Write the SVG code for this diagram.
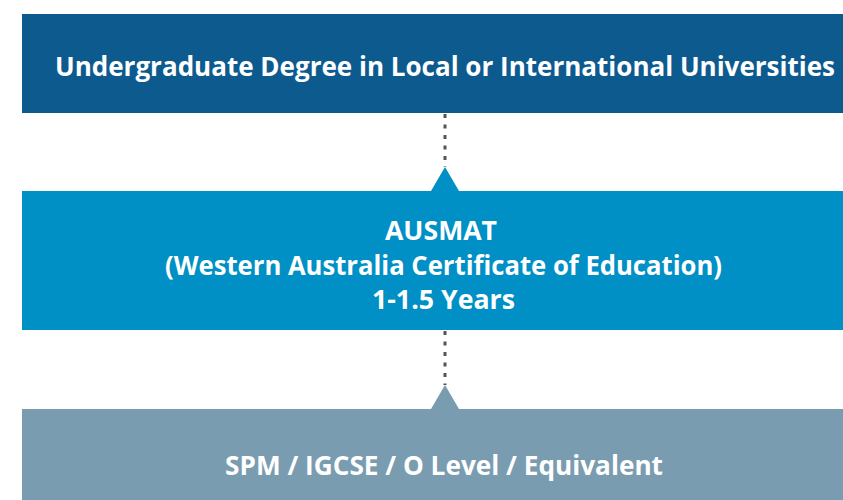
<svg xmlns="http://www.w3.org/2000/svg" width="843" height="500" viewBox="0 0 843 500">
<style>
.t{font-family:"Open Sans","Liberation Sans",sans-serif;font-weight:bold;font-size:26px;fill:#ffffff;text-anchor:middle}
.dot{stroke:#555555;stroke-width:3;stroke-dasharray:4 6.5;fill:none}
</style>
<rect width="843" height="500" fill="#ffffff"/>
<g id="connectors">
<line class="dot" x1="445" y1="114" x2="445" y2="167"/>
<polygon points="445,167 431,191 459,191" fill="#0090c5"/>
<line class="dot" x1="445" y1="331" x2="445" y2="385"/>
<polygon points="445,385 431,409 459,409" fill="#7a9cb1"/>
</g>
<g id="degree">
<rect x="22" y="14" width="821" height="99" fill="#0d5a8f"/>
<text class="t" x="445" y="76" textLength="780" lengthAdjust="spacingAndGlyphs">Undergraduate Degree in Local or International Universities</text>
</g>
<g id="ausmat">
<rect x="22" y="191" width="821" height="139" fill="#0090c5"/>
<text class="t" x="441" y="240" textLength="112" lengthAdjust="spacingAndGlyphs">AUSMAT</text>
<text class="t" x="443.5" y="275" textLength="557" lengthAdjust="spacingAndGlyphs">(Western Australia Certificate of Education)</text>
<text class="t" x="443.5" y="309" textLength="143" lengthAdjust="spacingAndGlyphs">1-1.5 Years</text>
</g>
<g id="spm">
<rect x="22" y="409" width="821" height="91" fill="#7a9cb1"/>
<text class="t" x="444" y="475" textLength="438" lengthAdjust="spacingAndGlyphs">SPM / IGCSE / O Level / Equivalent</text>
</g>
</svg>
